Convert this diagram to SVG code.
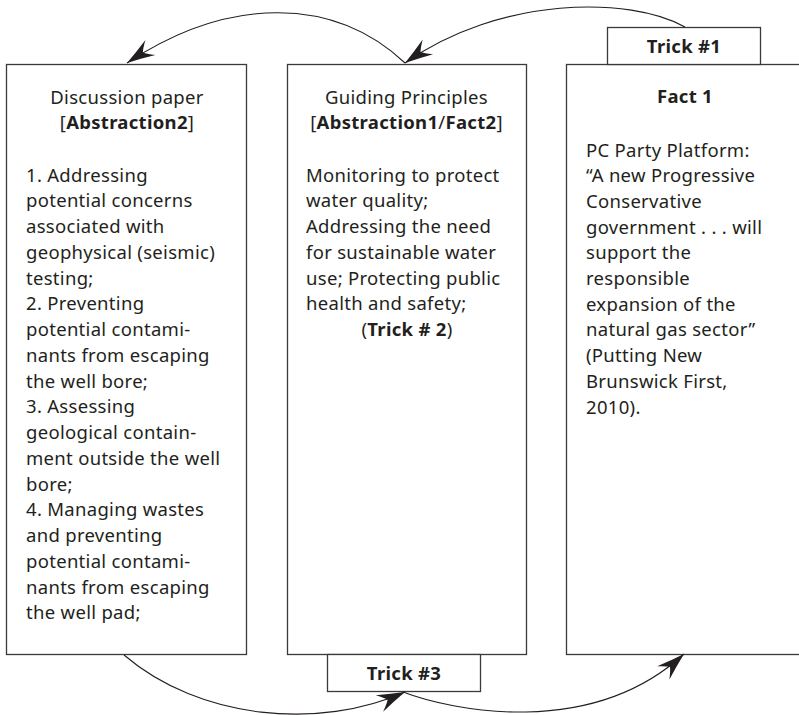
<svg xmlns="http://www.w3.org/2000/svg" width="799" height="715" viewBox="0 0 799 715">
<style>
  .box{fill:#fff;stroke:#3a3a3a;stroke-width:1.3}
  .t{font-family:"Noto Sans","Liberation Sans",sans-serif;font-size:18.5px;letter-spacing:0.3px;fill:#231f20}
  .c{text-anchor:middle}
  .b{font-weight:bold}
  .arc{fill:none;stroke:#231f20;stroke-width:1.1}
</style>
<defs>
  <marker id="ah" markerUnits="userSpaceOnUse" markerWidth="40" markerHeight="30" viewBox="-30 -15 40 30" refX="0" refY="0" orient="auto" overflow="visible">
    <path d="M0,0 Q-14,-4 -28,-9 Q-21,-3 -19,0 Q-21,3 -28,9 Q-14,4 0,0 Z" fill="#231f20"/>
  </marker>
</defs>
<rect width="799" height="715" fill="#fff"/>

<g id="discussion-paper">
  <rect class="box" x="6.5" y="64.5" width="240" height="590"/>
  <text class="t c" x="127" y="104">Discussion paper</text>
  <text class="t c" x="127" y="129">[<tspan class="b">Abstraction2</tspan>]</text>
  <text class="t" x="26">
    <tspan x="26" y="181.5">1. Addressing</tspan>
    <tspan x="26" y="207.25">potential concerns</tspan>
    <tspan x="26" y="233">associated with</tspan>
    <tspan x="26" y="258.75">geophysical (seismic)</tspan>
    <tspan x="26" y="284.5">testing;</tspan>
    <tspan x="26" y="310.25">2. Preventing</tspan>
    <tspan x="26" y="336">potential contami-</tspan>
    <tspan x="26" y="361.75">nants from escaping</tspan>
    <tspan x="26" y="387.5">the well bore;</tspan>
    <tspan x="26" y="413.25">3. Assessing</tspan>
    <tspan x="26" y="439">geological contain-</tspan>
    <tspan x="26" y="464.75">ment outside the well</tspan>
    <tspan x="26" y="490.5">bore;</tspan>
    <tspan x="26" y="516.25">4. Managing wastes</tspan>
    <tspan x="26" y="542">and preventing</tspan>
    <tspan x="26" y="567.75">potential contami-</tspan>
    <tspan x="26" y="593.5">nants from escaping</tspan>
    <tspan x="26" y="619.25">the well pad;</tspan>
  </text>
</g>

<g id="guiding-principles">
  <rect class="box" x="287.5" y="64.5" width="239" height="590"/>
  <text class="t c" x="406.5" y="104">Guiding Principles</text>
  <text class="t c" x="406.5" y="129">[<tspan class="b">Abstraction1</tspan>/<tspan class="b">Fact2</tspan>]</text>
  <text class="t" x="306">
    <tspan x="306" y="181.5">Monitoring to protect</tspan>
    <tspan x="306" y="207.25">water quality;</tspan>
    <tspan x="306" y="233">Addressing the need</tspan>
    <tspan x="306" y="258.75">for sustainable water</tspan>
    <tspan x="306" y="284.5">use; Protecting public</tspan>
    <tspan x="306" y="310.25">health and safety;</tspan>
  </text>
  <text class="t c" x="407" y="336">(<tspan class="b">Trick # 2</tspan>)</text>
</g>

<g id="fact-1">
  <rect class="box" x="566.5" y="64.5" width="260" height="590"/>
  <text class="t c b" x="685" y="103">Fact 1</text>
  <text class="t" x="586">
    <tspan x="586" y="156.5">PC Party Platform:</tspan>
    <tspan x="586" y="182.2">“A new Progressive</tspan>
    <tspan x="586" y="207.9">Conservative</tspan>
    <tspan x="586" y="233.6">government . . . will</tspan>
    <tspan x="586" y="259.3">support the</tspan>
    <tspan x="586" y="285">responsible</tspan>
    <tspan x="586" y="310.7">expansion of the</tspan>
    <tspan x="586" y="336.4">natural gas sector”</tspan>
    <tspan x="586" y="362.1">(Putting New</tspan>
    <tspan x="586" y="387.8">Brunswick First,</tspan>
    <tspan x="586" y="413.5">2010).</tspan>
  </text>
</g>

<g id="trick-1">
  <rect class="box" x="607.5" y="27.5" width="153" height="37"/>
  <text class="t c b" x="684" y="53">Trick #1</text>
</g>

<g id="trick-3">
  <rect class="box" x="327.5" y="654.5" width="153" height="37"/>
  <text class="t c b" x="404" y="680">Trick #3</text>
</g>

<g id="connectors">
  <path class="arc" d="M685,27 C630,-4 500,-4 405,63" marker-end="url(#ah)"/>
  <path class="arc" d="M405,63 C335,-3 230,-5 127,63" marker-end="url(#ah)"/>
  <path class="arc" d="M124,655 C200,720 320,730 405,692" marker-end="url(#ah)"/>
  <path class="arc" d="M403,692 C450,710 590,740 684,654" marker-end="url(#ah)"/>
</g>
</svg>
